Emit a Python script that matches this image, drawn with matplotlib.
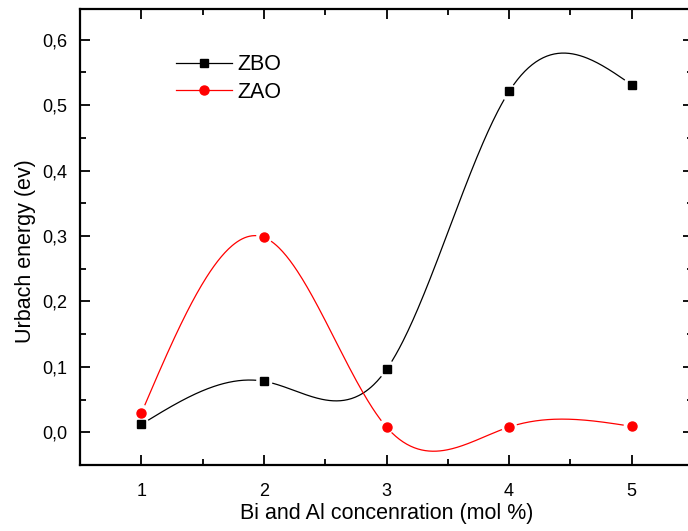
import numpy as np
import matplotlib.pyplot as plt
from matplotlib.ticker import MultipleLocator, FuncFormatter

plt.rcParams['font.family'] = ['Liberation Sans', 'DejaVu Sans']

conc = [1, 2, 3, 4, 5]
zbo = [0.012, 0.078, 0.096, 0.521, 0.531]
zao = [0.029, 0.298, 0.008, 0.008, 0.009]


def natural_spline(x, y, n=400):
    x, y = np.asarray(x, float), np.asarray(y, float)
    k = len(x)
    h = np.diff(x)
    A = np.zeros((k, k))
    b = np.zeros(k)
    A[0, 0] = A[-1, -1] = 1
    for i in range(1, k - 1):
        A[i, i - 1] = h[i - 1]
        A[i, i] = 2 * (h[i - 1] + h[i])
        A[i, i + 1] = h[i]
        b[i] = 6 * ((y[i + 1] - y[i]) / h[i] - (y[i] - y[i - 1]) / h[i - 1])
    m = np.linalg.solve(A, b)
    xs = np.linspace(x[0], x[-1], n)
    idx = np.clip(np.searchsorted(x, xs) - 1, 0, k - 2)
    x0, x1 = x[idx], x[idx + 1]
    hh = x1 - x0
    ys = (m[idx] * (x1 - xs) ** 3 / (6 * hh) + m[idx + 1] * (xs - x0) ** 3 / (6 * hh)
          + (y[idx] / hh - m[idx] * hh / 6) * (x1 - xs)
          + (y[idx + 1] / hh - m[idx + 1] * hh / 6) * (xs - x0))
    return xs, ys


def gap_near_points(xs, ys, x, y, px=122.8, py=653.3, r=8):
    # blank the curve close to each marker, like Origin does
    ys = ys.copy()
    for xi, yi in zip(x, y):
        d = np.hypot((xs - xi) * px, (ys - yi) * py)
        ys[d < r] = np.nan
    return xs, ys


fig = plt.figure(figsize=(6.88, 5.31), dpi=100)
ax = fig.add_axes([80 / 688, 66 / 531, 613 / 688, 456 / 531])

for vals, color, marker, ms, lbl in [(zbo, 'black', 's', 5.5, 'ZBO'),
                                     (zao, 'red', 'o', 6.5, 'ZAO')]:
    xs, ys = natural_spline(conc, vals)
    xs, ys = gap_near_points(xs, ys, conc, vals)
    ax.plot(xs, ys, color=color, lw=0.9)
    ax.plot(conc, vals, linestyle='none', marker=marker, ms=ms, color=color)
    ax.plot([], [], color=color, lw=0.9, marker=marker, ms=ms, label=lbl)

ax.set_xlim(0.5, 5.5)
ax.set_ylim(-0.05, 0.647)
ax.xaxis.set_major_locator(MultipleLocator(1))
ax.xaxis.set_minor_locator(MultipleLocator(0.5))
ax.yaxis.set_major_locator(MultipleLocator(0.1))
ax.yaxis.set_minor_locator(MultipleLocator(0.05))
ax.yaxis.set_major_formatter(FuncFormatter(lambda v, p: f'{v:.1f}'.replace('.', ',').replace('-0,0', '0,0')))
ax.tick_params(which='both', direction='in', top=True, right=True, labelsize=13, width=1.3)
ax.tick_params(which='major', length=7)
ax.tick_params(which='minor', length=4)
ax.tick_params(axis='x', pad=13)
ax.tick_params(axis='y', pad=9)
for s in ax.spines.values():
    s.set_linewidth(1.6)

ax.set_xlabel('Bi and Al concenration (mol %)', fontsize=15.5, labelpad=2)
ax.set_ylabel('Urbach energy (ev)', fontsize=15.5)
ax.yaxis.set_label_coords(-0.072, 0.47)

ax.legend(loc='upper left', bbox_to_anchor=(0.125, 0.943), frameon=False, fontsize=15.5,
          handlelength=2.6, handletextpad=0.25, labelspacing=0.3)

fig.savefig('out.png', dpi=100)
